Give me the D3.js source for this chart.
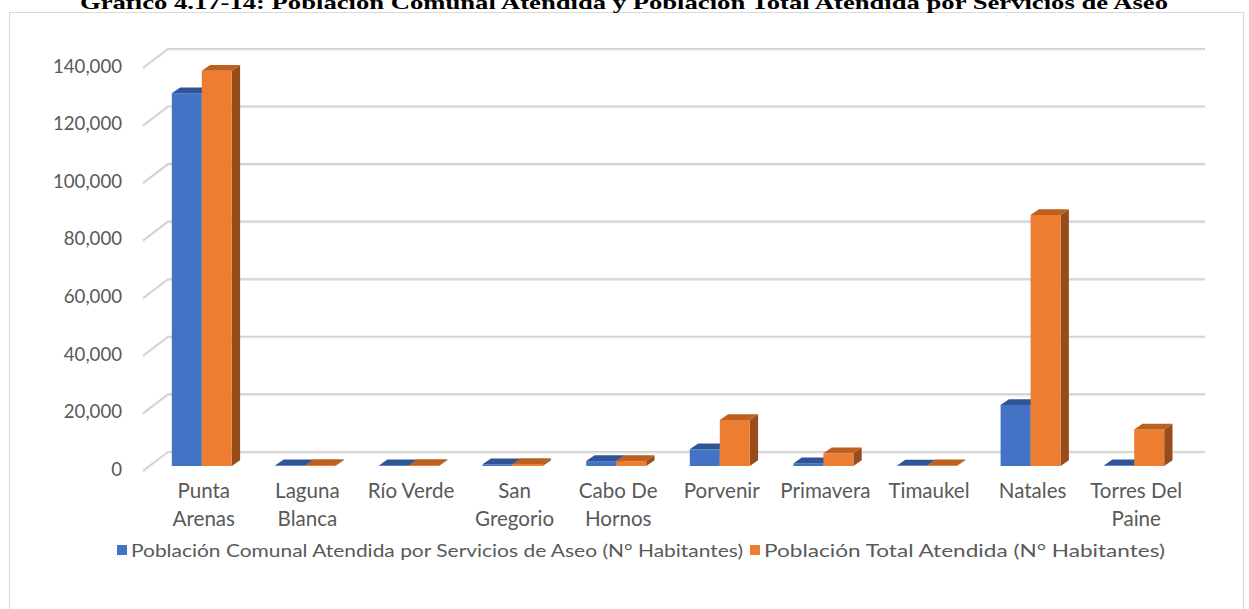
<!DOCTYPE html>
<html>
<head>
<meta charset="utf-8">
<script src="https://cdn.jsdelivr.net/npm/d3@7"></script>
<style>
  html, body { margin: 0; padding: 0; background: #fff; }
  svg { display: block; }
</style>
</head>
<body>
<svg id="chart" width="1249" height="609"></svg>
<script>
const categories = ["Punta Arenas","Laguna Blanca","Río Verde","San Gregorio","Cabo De Hornos","Porvenir","Primavera","Timaukel","Natales","Torres Del Paine"];
const categoryLines = [["Punta","Arenas"],["Laguna","Blanca"],["Río Verde"],["San","Gregorio"],["Cabo De","Hornos"],["Porvenir"],["Primavera"],["Timaukel"],["Natales"],["Torres Del","Paine"]];
const seriesNames = ["Población Comunal Atendida por Servicios de Aseo (N° Habitantes)","Población Total Atendida (N° Habitantes)"];
const comunal = [129500, 250, 200, 600, 1700, 5800, 900, 150, 21200, 250];
const total = [137300, 300, 300, 700, 1700, 16000, 4400, 200, 87200, 12700];
const yTicks = [0, 20000, 40000, 60000, 80000, 100000, 120000, 140000];
const titleText = "Gráfico 4.17-14: Población Comunal Atendida y Población Total Atendida por Servicios de Aseo";

const colors = [
  {front: "#4472C4", top: "#2F5597", side: "#2A4B86"},
  {front: "#ED7D31", top: "#BC5F1F", side: "#974D1B"}
];
const FONT = "Lato, 'Open Sans', sans-serif";

const svg = d3.select("#chart");

// measure helper: font size that makes a sample string a target width
function fitSize(sample, target, base) {
  const t = svg.append("text").attr("font-family", FONT).attr("font-size", base).text(sample);
  const w = t.node().getComputedTextLength();
  t.remove();
  return base * target / w;
}
const tickSize = fitSize("140,000", 69, 18);
const catSize = fitSize("Porvenir", 76, 18);

// frame
svg.append("rect").attr("x", 9.5).attr("y", 12.5).attr("width", 1234).attr("height", 620)
  .attr("fill", "#fff").attr("stroke", "#d9d9d9").attr("stroke-width", 1);

// title
svg.append("text").attr("x", 624).attr("y", 9)
  .attr("text-anchor", "middle")
  .attr("font-family", "'Liberation Serif', 'DejaVu Serif', serif")
  .attr("font-weight", "bold").attr("font-size", 19)
  .attr("textLength", 1088).attr("lengthAdjust", "spacingAndGlyphs")
  .attr("fill", "#000").text(titleText);

// scales (bar front plane)
const y = d3.scaleLinear().domain([0, 140000]).range([466, 63]);
const x = d3.scaleBand().domain(categories).range([150, 1186]).paddingInner(0).paddingOuter(0);
const groupW = 60;
const sub = d3.scaleBand().domain([0, 1]).range([0, groupW]);

// floor/back offsets relative to bar plane
const front = {dy: 4.7};
const back = {dy: -14.3};
const depth = {dx: 8.3, dy: -5.8};

// gridlines
const grid = svg.append("g");
yTicks.forEach(t => {
  const yy = y(t);
  const pts = [[143, yy + front.dy], [168, yy + back.dy], [1205, yy + back.dy]];
  grid.append("path").attr("d", d3.line()(pts.map(p => [p[0], p[1] + 1])))
    .attr("fill", "none").attr("stroke", "#ececec").attr("stroke-width", 2);
  grid.append("path").attr("d", d3.line()(pts))
    .attr("fill", "none").attr("stroke", "#d0d0d0").attr("stroke-width", 1.6);
});

// y axis labels
const yAxisG = svg.append("g").attr("transform", `translate(126, ${front.dy - 1.5})`)
  .call(d3.axisLeft(y).tickValues(yTicks).tickSize(0).tickPadding(4).tickFormat(d3.format(",")));
yAxisG.select(".domain").remove();
yAxisG.selectAll("text").attr("font-family", FONT)
  .attr("font-size", tickSize).attr("fill", "#595959");

// bars
const series = [comunal, total];
const barsG = svg.append("g");
categories.forEach((c, i) => {
  const gx = x(c) + (x.bandwidth() - groupW) / 2;
  series.forEach((vals, s) => {
    const v = vals[i];
    const x0 = gx + sub(s), w = sub.bandwidth();
    const y0 = y(0), y1 = y(v);
    const col = colors[s];
    barsG.append("path").attr("d", d3.line()([[x0 + w, y1], [x0 + w + depth.dx, y1 + depth.dy], [x0 + w + depth.dx, y0 + depth.dy], [x0 + w, y0]]) + "Z")
      .attr("fill", col.side);
    barsG.append("rect").attr("x", x0).attr("y", y1).attr("width", w).attr("height", Math.max(0, y0 - y1))
      .attr("fill", col.front);
    barsG.append("path").attr("d", d3.line()([[x0, y1], [x0 + depth.dx, y1 + depth.dy], [x0 + w + depth.dx, y1 + depth.dy], [x0 + w, y1]]) + "Z")
      .attr("fill", col.top);
  });
});

// category labels
const catG = svg.append("g");
categories.forEach((c, i) => {
  const cx = x(c) + x.bandwidth() / 2 + 2;
  const t = catG.append("text").attr("text-anchor", "middle")
    .attr("font-family", FONT).attr("font-size", catSize).attr("fill", "#595959");
  categoryLines[i].forEach((ln, k) => {
    t.append("tspan").attr("x", cx).attr("y", 498 + k * 28).text(ln);
  });
});

// legend
const legend = svg.append("g");
const legItems = [
  {sx: 117, tx: 131, tw: 612},
  {sx: 750, tx: 764, tw: 401}
];
legItems.forEach((it, s) => {
  legend.append("rect").attr("x", it.sx).attr("y", 545).attr("width", 10).attr("height", 10).attr("fill", colors[s].front);
  legend.append("text").attr("x", it.tx).attr("y", 557)
    .attr("font-family", FONT).attr("font-size", 18).attr("fill", "#595959")
    .attr("textLength", it.tw).attr("lengthAdjust", "spacingAndGlyphs")
    .text(seriesNames[s]);
});
</script>
</body>
</html>
